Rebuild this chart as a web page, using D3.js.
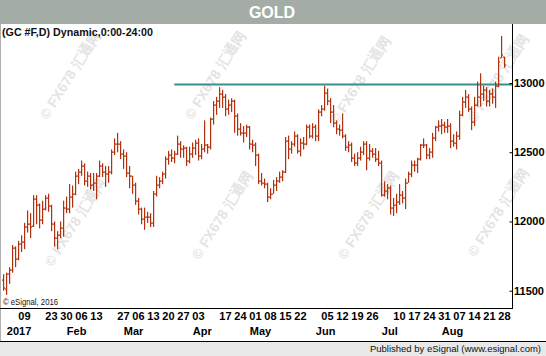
<!DOCTYPE html>
<html><head><meta charset="utf-8">
<script src="https://cdn.jsdelivr.net/npm/d3@7"></script>
<style>
body{margin:0;background:#fff}
svg{display:block}
text{font-family:"Liberation Sans",Arial,sans-serif}
</style>
</head><body>
<svg id="c" width="546" height="356"></svg>
<script>
// ---------- data ----------
const title = "GOLD";
const subtitle = "(GC #F,D) Dynamic,0:00-24:00";
const copyright = "\u00a9 eSignal, 2016";
const footer = "Published by eSignal (www.esignal.com)";
const watermark = "\u00a9 FX678 \u6c47\u901a\u7f51";

const dates = ["2016-12-30",
"2017-01-03","2017-01-04","2017-01-05","2017-01-06","2017-01-09","2017-01-10","2017-01-11","2017-01-12","2017-01-13","2017-01-17","2017-01-18","2017-01-19","2017-01-20","2017-01-23","2017-01-24","2017-01-25","2017-01-26","2017-01-27","2017-01-30","2017-01-31",
"2017-02-01","2017-02-02","2017-02-03","2017-02-06","2017-02-07","2017-02-08","2017-02-09","2017-02-10","2017-02-13","2017-02-14","2017-02-15","2017-02-16","2017-02-17","2017-02-21","2017-02-22","2017-02-23","2017-02-24","2017-02-27","2017-02-28",
"2017-03-01","2017-03-02","2017-03-03","2017-03-06","2017-03-07","2017-03-08","2017-03-09","2017-03-10","2017-03-13","2017-03-14","2017-03-15","2017-03-16","2017-03-17","2017-03-20","2017-03-21","2017-03-22","2017-03-23","2017-03-24","2017-03-27","2017-03-28","2017-03-29","2017-03-30","2017-03-31",
"2017-04-03","2017-04-04","2017-04-05","2017-04-06","2017-04-07","2017-04-10","2017-04-11","2017-04-12","2017-04-13","2017-04-17","2017-04-18","2017-04-19","2017-04-20","2017-04-21","2017-04-24","2017-04-25","2017-04-26","2017-04-27","2017-04-28",
"2017-05-01","2017-05-02","2017-05-03","2017-05-04","2017-05-05","2017-05-08","2017-05-09","2017-05-10","2017-05-11","2017-05-12","2017-05-15","2017-05-16","2017-05-17","2017-05-18","2017-05-19","2017-05-22","2017-05-23","2017-05-24","2017-05-25","2017-05-26","2017-05-30","2017-05-31",
"2017-06-01","2017-06-02","2017-06-05","2017-06-06","2017-06-07","2017-06-08","2017-06-09","2017-06-12","2017-06-13","2017-06-14","2017-06-15","2017-06-16","2017-06-19","2017-06-20","2017-06-21","2017-06-22","2017-06-23","2017-06-26","2017-06-27","2017-06-28","2017-06-29","2017-06-30",
"2017-07-03","2017-07-05","2017-07-06","2017-07-07","2017-07-10","2017-07-11","2017-07-12","2017-07-13","2017-07-14","2017-07-17","2017-07-18","2017-07-19","2017-07-20","2017-07-21","2017-07-24","2017-07-25","2017-07-26","2017-07-27","2017-07-28","2017-07-31",
"2017-08-01","2017-08-02","2017-08-03","2017-08-04","2017-08-07","2017-08-08","2017-08-09","2017-08-10","2017-08-11","2017-08-14","2017-08-15","2017-08-16","2017-08-17","2017-08-18","2017-08-21","2017-08-22","2017-08-23","2017-08-24","2017-08-25","2017-08-28","2017-08-29","2017-08-30"];

const open = [11580,
11510,11620,11650,11810,11730,11840,11850,11960,11980,11970,12160,12120,12010,12090,12170,12110,11980,11880,11900,11950,
12100,12090,12180,12200,12330,12360,12400,12290,12330,12260,12280,12330,12400,12360,12340,12360,12500,12560,12560,
12490,12470,12350,12330,12260,12150,12090,12020,12030,12030,11990,12200,12260,12290,12340,12450,12480,12460,12490,12560,12520,12530,12440,
12490,12530,12570,12470,12520,12550,12540,12740,12840,12870,12920,12900,12810,12840,12870,12760,12670,12640,12640,
12680,12560,12550,12480,12290,12280,12270,12180,12200,12260,12290,12320,12360,12580,12520,12560,12620,12510,12570,12560,12680,12620,
12680,12620,12790,12810,12930,12870,12790,12710,12670,12660,12620,12540,12550,12460,12420,12460,12500,12560,12460,12510,12490,12450,
12420,12190,12220,12240,12100,12120,12140,12190,12170,12280,12340,12410,12410,12450,12550,12550,12480,12500,12600,12680,
12690,12700,12680,12690,12580,12570,12620,12770,12860,12900,12810,12720,12840,12900,12920,12950,12870,12920,12900,12980,13180,13190];

const high = [11620,
11630,11670,11830,11820,11860,11900,11990,12080,12060,12190,12190,12130,12150,12190,12200,12120,12000,11930,12000,12150,
12180,12270,12260,12360,12380,12440,12420,12360,12350,12350,12350,12440,12420,12400,12400,12520,12600,12640,12580,
12520,12500,12400,12330,12280,12170,12100,12100,12070,12060,12220,12330,12320,12360,12470,12510,12520,12510,12620,12580,12550,12540,12540,
12570,12590,12600,12560,12730,12560,12750,12870,12900,12970,12950,12920,12880,12890,12880,12780,12710,12690,12700,
12690,12590,12570,12490,12350,12310,12280,12240,12300,12320,12360,12370,12610,12620,12580,12650,12630,12600,12610,12700,12700,12710,
12700,12810,12840,12980,12960,12890,12840,12730,12700,12780,12630,12580,12570,12490,12500,12540,12580,12580,12560,12530,12530,12510,
12440,12290,12270,12260,12170,12200,12270,12220,12310,12360,12440,12440,12460,12560,12600,12560,12530,12640,12690,12730,
12740,12720,12740,12710,12630,12650,12800,12900,12950,12920,12830,12900,13010,13070,12980,12970,12950,12960,13010,13190,13340,13190];

const low = [11500,
11470,11550,11630,11670,11720,11780,11800,11920,11880,11960,11980,11950,11980,12080,12070,11930,11820,11800,11880,11890,
12060,12060,12100,12190,12270,12330,12260,12250,12230,12220,12160,12320,12320,12250,12280,12340,12480,12500,12450,
12380,12320,12240,12200,12120,12050,11980,11940,11990,11960,11960,12180,12240,12270,12310,12410,12430,12420,12480,12460,12460,12400,12420,
12460,12480,12440,12450,12500,12490,12520,12700,12770,12820,12820,12760,12770,12790,12640,12620,12620,12570,12610,
12520,12500,12400,12270,12260,12240,12140,12160,12200,12220,12280,12290,12350,12450,12490,12540,12490,12470,12520,12550,12600,12600,
12580,12580,12760,12800,12840,12710,12680,12630,12620,12600,12510,12500,12430,12400,12400,12440,12480,12370,12440,12460,12430,12400,
12180,12180,12160,12050,12040,12060,12120,12130,12090,12280,12320,12360,12350,12440,12530,12450,12450,12460,12580,12650,
12630,12640,12640,12530,12540,12520,12590,12760,12820,12790,12660,12690,12830,12830,12870,12830,12830,12850,12820,12970,13180,13110];

const close = [11520,
11620,11650,11810,11730,11840,11850,11960,11980,11960,12160,12120,12010,12090,12170,12110,11980,11880,11900,11950,12100,
12090,12180,12200,12330,12360,12400,12290,12330,12260,12280,12330,12400,12360,12340,12360,12500,12560,12560,12490,
12470,12350,12330,12260,12150,12090,12020,12030,12030,11990,12200,12260,12290,12340,12450,12480,12460,12490,12560,12520,12530,12440,12490,
12530,12570,12470,12520,12550,12540,12740,12840,12870,12920,12900,12810,12840,12870,12760,12670,12640,12640,12680,
12560,12550,12480,12290,12280,12270,12180,12200,12260,12290,12320,12360,12580,12520,12560,12620,12510,12570,12560,12680,12620,12680,
12620,12790,12810,12930,12870,12790,12710,12670,12660,12620,12540,12550,12460,12420,12460,12500,12560,12460,12510,12490,12450,12420,
12190,12220,12240,12100,12120,12140,12190,12170,12280,12340,12410,12410,12450,12550,12550,12480,12500,12600,12680,12690,
12700,12680,12690,12580,12570,12620,12770,12860,12900,12810,12720,12840,12900,12920,12950,12870,12920,12900,12980,13150,13200,13130];

const yTicks = [11500, 12000, 12500, 13000];
const dateTickDates = ["2017-01-09","2017-01-23","2017-01-30","2017-02-06","2017-02-13","2017-02-27","2017-03-06","2017-03-13","2017-03-20","2017-03-27","2017-04-03","2017-04-17","2017-04-24","2017-05-01","2017-05-08","2017-05-15","2017-05-22","2017-06-05","2017-06-12","2017-06-19","2017-06-26","2017-07-10","2017-07-17","2017-07-24","2017-07-31","2017-08-07","2017-08-14","2017-08-21","2017-08-28"];
const dateTickLabels = ["09","23","30","06","13","27","06","13","20","27","03","17","24","01","08","15","22","05","12","19","26","10","17","24","31","07","14","21","28"];
const monthTickDates = ["2017-01-03","2017-02-01","2017-03-01","2017-04-03","2017-05-01","2017-06-01","2017-07-03","2017-08-01"];
const monthTickLabels = ["2017","Feb","Mar","Apr","May","Jun","Jul","Aug"];
const resistanceLevel = 12995;
const resistanceStart = "2017-03-24";

// ---------- layout ----------
const W = 546, H = 356;
const plot = {left: 0, right: 512, top: 24, bottom: 308};
const barColor = "#b3300c";

const svg = d3.select("#c");

const x = d3.scaleLinear().domain([0, dates.length - 1]).range([3.3, 504.3]);
const y = d3.scaleLinear().domain([11500, 13000]).range([290.7, 83]);

// title bar
svg.append("rect").attr("x", 0).attr("y", 0).attr("width", W).attr("height", 24).attr("fill", "#a3ada5");
svg.append("text").attr("x", 272).attr("y", 18).attr("text-anchor", "middle")
  .attr("fill", "#fff").attr("font-weight", "bold").attr("font-size", 16).text(title);

// watermarks
const wmPos = [[70,75],[215,75],[360,80],[498,78],[75,222],[222,215],[368,215],[498,212]];
svg.append("g").selectAll("text").data(wmPos).join("text")
  .attr("transform", d => `translate(${d[0]},${d[1]}) rotate(-58)`)
  .attr("text-anchor", "middle").attr("dy", "0.35em")
  .attr("font-family", "'Noto Sans CJK SC', 'Liberation Sans', sans-serif")
  .attr("font-size", 14).attr("font-weight", "bold")
  .attr("fill", "#e4e4e4").text(watermark);

// subtitle
svg.append("text").attr("x", 2).attr("y", 36).attr("font-size", 10.5).attr("font-weight", "bold").attr("fill", "#111")
  .attr("textLength", 151).attr("lengthAdjust", "spacingAndGlyphs").text(subtitle);

// resistance line
svg.append("line")
  .attr("x1", x(dates.indexOf(resistanceStart))).attr("x2", plot.right)
  .attr("y1", Math.round(y(resistanceLevel)) + 0.5).attr("y2", Math.round(y(resistanceLevel)) + 0.5)
  .attr("stroke", "#3a8e8c").attr("stroke-width", 2);

// OHLC bars
const bars = svg.append("g");
dates.forEach((d, i) => {
  const xi = Math.round(x(i));
  const yh = y(high[i]), yl = y(low[i]);
  bars.append("rect").attr("x", xi).attr("y", yh).attr("width", 1.2).attr("height", Math.max(1, yl - yh)).attr("fill", barColor);
  bars.append("rect").attr("x", xi - 1).attr("y", Math.round(y(open[i])) - 0.5).attr("width", 1).attr("height", 1.2).attr("fill", barColor);
  bars.append("rect").attr("x", xi + 1).attr("y", Math.round(y(close[i])) - 0.5).attr("width", 1).attr("height", 1.2).attr("fill", barColor);
});

// copyright
svg.append("text").attr("x", 3).attr("y", 305).attr("font-size", 9.5).attr("fill", "#111")
  .attr("textLength", 55).attr("lengthAdjust", "spacingAndGlyphs").text(copyright);

// borders
svg.append("line").attr("x1", 0.5).attr("x2", 0.5).attr("y1", 24).attr("y2", 341).attr("stroke", "#b0b0b0");
svg.append("line").attr("x1", plot.right + 0.5).attr("x2", plot.right + 0.5).attr("y1", plot.top).attr("y2", plot.bottom).attr("stroke", "#000");
svg.append("line").attr("x1", 0).attr("x2", plot.right + 1).attr("y1", plot.bottom + 0.5).attr("y2", plot.bottom + 0.5).attr("stroke", "#000");

// right axis
const yAxis = d3.axisRight(y).tickValues(yTicks).tickSize(-3).tickPadding(1.5).tickFormat(d3.format("d"));
const gy = svg.append("g").attr("transform", `translate(${plot.right + 0.5},0)`).call(yAxis);
gy.select(".domain").remove();
gy.selectAll("text").attr("font-size", 11).attr("font-weight", "bold").attr("fill", "#000")
  .attr("font-family", "'Liberation Sans',Arial,sans-serif");
gy.selectAll("line").attr("stroke", "#000");

// bottom axis: dates
const dIdx = dateTickDates.map(d => dates.indexOf(d));
const xAxisD = d3.axisBottom(x).tickValues(dIdx).tickSize(0).tickPadding(0)
  .tickFormat((d, i) => dateTickLabels[i]);
const gxd = svg.append("g").attr("transform", `translate(0,${plot.bottom})`).call(xAxisD);
gxd.select(".domain").remove();
gxd.selectAll("text").attr("text-anchor", "start").attr("y", 0).attr("dy", 0).attr("dx", -0.5)
  .attr("transform", "translate(0,12)")
  .attr("font-size", 11).attr("font-weight", "bold").attr("fill", "#000")
  .attr("font-family", "'Liberation Sans',Arial,sans-serif");

// bottom axis: months
const mIdx = monthTickDates.map(d => dates.indexOf(d));
const xAxisM = d3.axisBottom(x).tickValues(mIdx).tickSize(0).tickPadding(0)
  .tickFormat((d, i) => monthTickLabels[i]);
const gxm = svg.append("g").attr("transform", `translate(0,${plot.bottom})`).call(xAxisM);
gxm.select(".domain").remove();
gxm.selectAll("text").attr("text-anchor", "start").attr("y", 0).attr("dy", 0).attr("dx", 0)
  .attr("transform", "translate(0,27)")
  .attr("font-size", 11).attr("font-weight", "bold").attr("fill", "#000")
  .attr("font-family", "'Liberation Sans',Arial,sans-serif");

// footer
svg.append("rect").attr("x", 0).attr("y", 341).attr("width", W).attr("height", 15).attr("fill", "#e8e8e8");
svg.append("line").attr("x1", 0).attr("x2", W).attr("y1", 341.5).attr("y2", 341.5).attr("stroke", "#000");
svg.append("text").attr("x", 541).attr("y", 352).attr("text-anchor", "end").attr("font-size", 9.5)
  .attr("fill", "#111").text(footer);
</script>
</body></html>
